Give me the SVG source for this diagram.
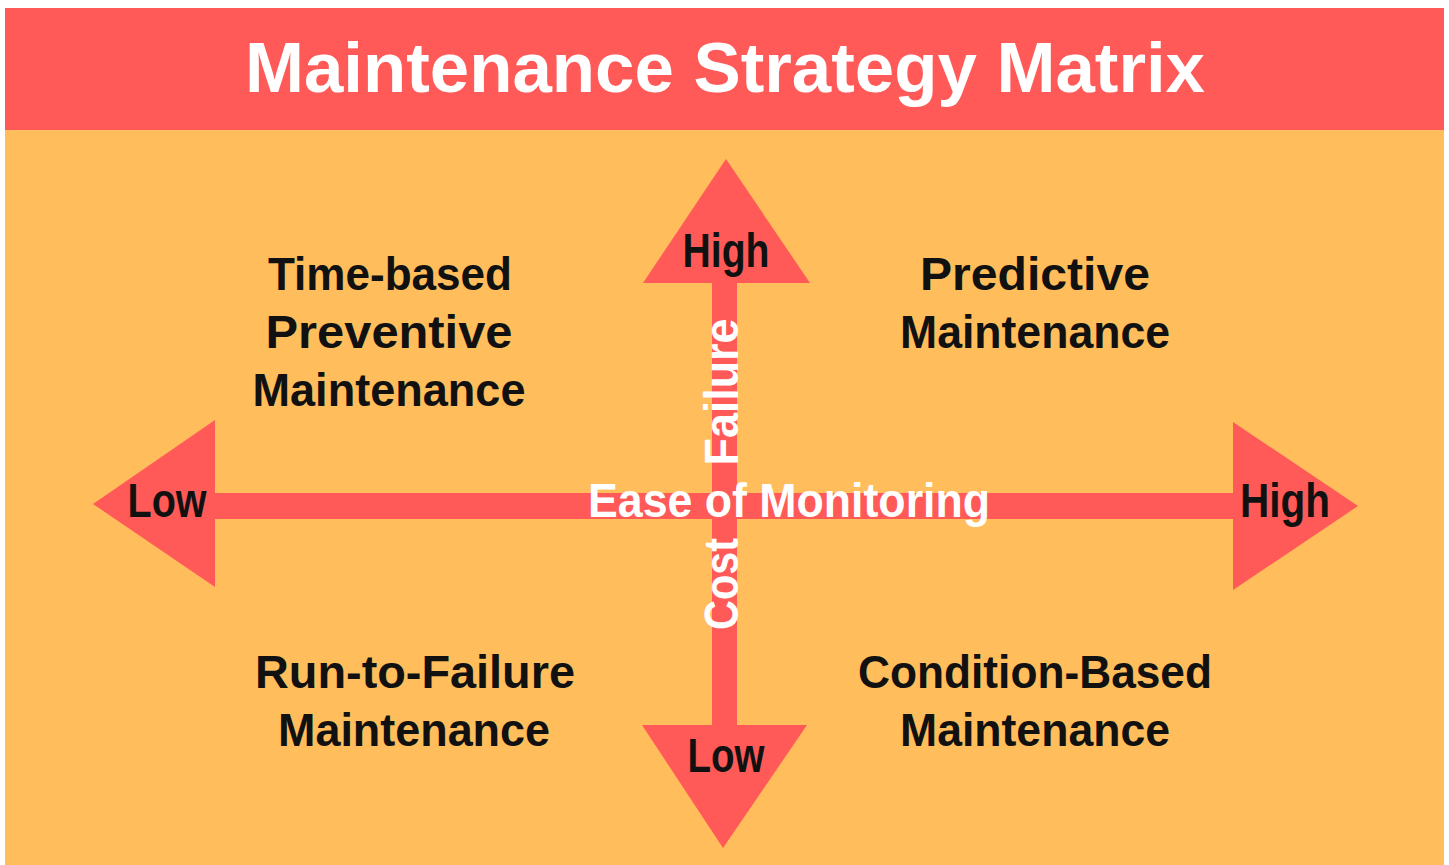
<svg xmlns="http://www.w3.org/2000/svg" width="1449" height="865" viewBox="0 0 1449 865">
  <style>
    .lbl { font-family: "Liberation Sans", Arial, sans-serif; font-weight: bold; }
    .dark { fill: #111111; font-size: 46px; text-anchor: middle; }
    .axis { fill: #111111; font-size: 48px; text-anchor: middle; }
    .white { fill: #ffffff; font-size: 48px; text-anchor: middle; }
    .arrow { fill: #ff5a57; }
  </style>

  <!-- page -->
  <rect x="0" y="0" width="1449" height="865" fill="#ffffff"/>
  <rect x="5" y="8" width="1439" height="857" fill="#ffbd5b"/>

  <!-- header band -->
  <g id="title">
    <rect x="5" y="8" width="1439" height="122" fill="#ff5a57"/>
    <text class="lbl" x="725" y="92" fill="#ffffff" font-size="70" text-anchor="middle" textLength="960" lengthAdjust="spacingAndGlyphs">Maintenance Strategy Matrix</text>
  </g>

  <!-- axes -->
  <g id="connectors">
    <g id="vertical-axis">
      <rect class="arrow" x="712" y="280" width="25" height="448"/>
      <polygon class="arrow" points="726,159 810,283 643,283"/>
      <polygon class="arrow" points="642,725 807,725 723,848"/>
    </g>
    <g id="horizontal-axis">
      <rect class="arrow" x="212" y="493" width="1024" height="26"/>
      <polygon class="arrow" points="93,504 215,420 215,587"/>
      <polygon class="arrow" points="1233,422 1358,506 1233,590"/>
    </g>
  </g>

  <!-- axis labels -->
  <g id="axis-cost">
    <text class="lbl white" transform="translate(738,584) rotate(-90)" textLength="92" lengthAdjust="spacingAndGlyphs">Cost</text>
    <text class="lbl white" transform="translate(738,392) rotate(-90)" textLength="147" lengthAdjust="spacingAndGlyphs">Failure</text>
  </g>
  <g id="axis-ease">
    <text class="lbl white" x="789" y="517" textLength="402" lengthAdjust="spacingAndGlyphs">Ease of Monitoring</text>
  </g>
  <g id="label-high-top">
    <text class="lbl axis" x="726" y="267" textLength="87" lengthAdjust="spacingAndGlyphs">High</text>
  </g>
  <g id="label-low-bottom">
    <text class="lbl axis" x="726" y="772" textLength="77" lengthAdjust="spacingAndGlyphs">Low</text>
  </g>
  <g id="label-low-left">
    <text class="lbl axis" x="167" y="517" textLength="79" lengthAdjust="spacingAndGlyphs">Low</text>
  </g>
  <g id="label-high-right">
    <text class="lbl axis" x="1285" y="517" textLength="90" lengthAdjust="spacingAndGlyphs">High</text>
  </g>

  <!-- quadrants -->
  <g id="quadrant-time-based">
    <text class="lbl dark" x="390" y="290" textLength="244" lengthAdjust="spacingAndGlyphs">Time-based</text>
    <text class="lbl dark" x="389" y="348" textLength="247" lengthAdjust="spacingAndGlyphs">Preventive</text>
    <text class="lbl dark" x="389" y="406" textLength="273" lengthAdjust="spacingAndGlyphs">Maintenance</text>
  </g>
  <g id="quadrant-predictive">
    <text class="lbl dark" x="1035" y="290" textLength="230" lengthAdjust="spacingAndGlyphs">Predictive</text>
    <text class="lbl dark" x="1035" y="348" textLength="270" lengthAdjust="spacingAndGlyphs">Maintenance</text>
  </g>
  <g id="quadrant-run-to-failure">
    <text class="lbl dark" x="415" y="688" textLength="320" lengthAdjust="spacingAndGlyphs">Run-to-Failure</text>
    <text class="lbl dark" x="414" y="746" textLength="272" lengthAdjust="spacingAndGlyphs">Maintenance</text>
  </g>
  <g id="quadrant-condition-based">
    <text class="lbl dark" x="1035" y="688" textLength="354" lengthAdjust="spacingAndGlyphs">Condition-Based</text>
    <text class="lbl dark" x="1035" y="746" textLength="270" lengthAdjust="spacingAndGlyphs">Maintenance</text>
  </g>
</svg>
